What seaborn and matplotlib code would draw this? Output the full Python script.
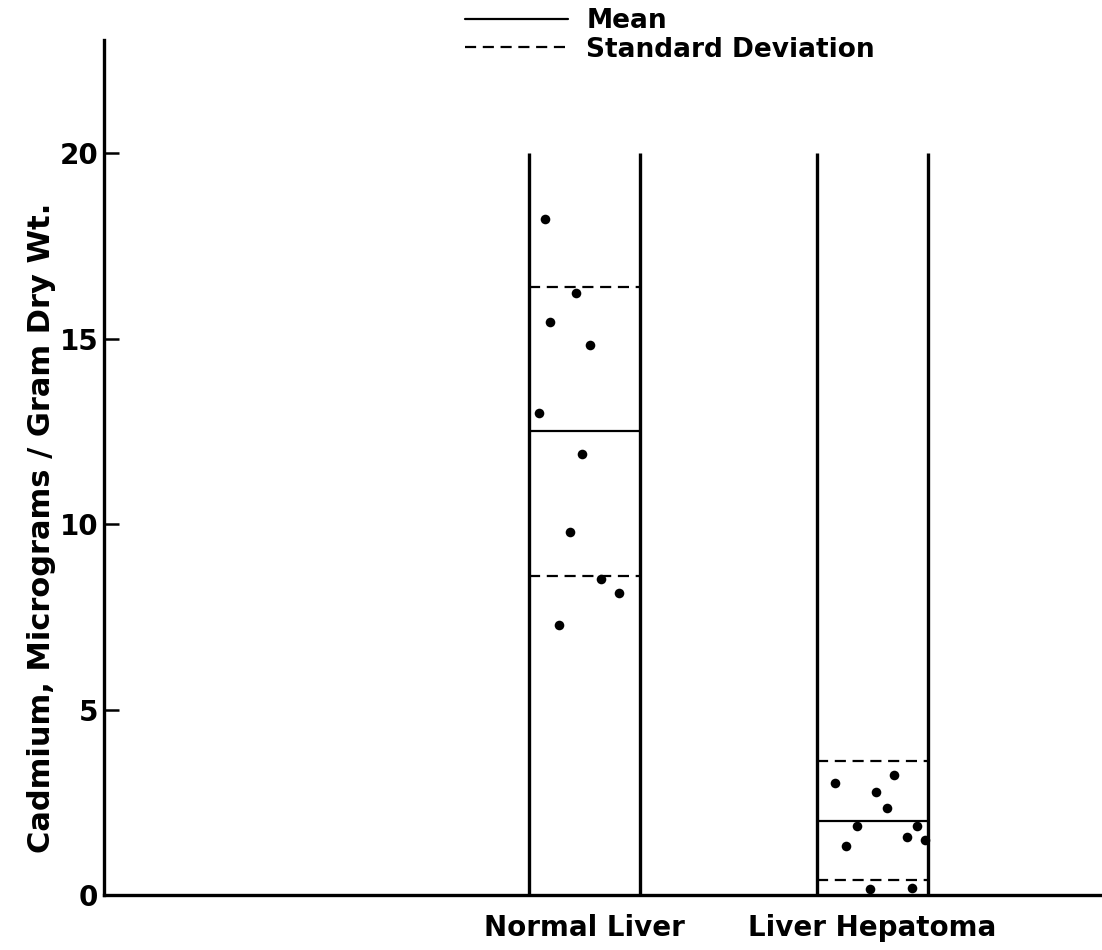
import pandas as pd
import numpy as np
import matplotlib.pyplot as plt
import seaborn as sns
from matplotlib.lines import Line2D

# data
groups = ["Normal Liver", "Liver Hepatoma"]
means = [12.5, 2.0]
sds = [3.9, 1.6]
column_top = 20

normal_values = [18.23, 16.23, 15.44, 14.83, 13.0, 11.89, 9.78, 8.52, 8.14, 7.28]
normal_jitter = [-0.72, -0.16, -0.63, 0.10, -0.82, -0.05, -0.26, 0.29, 0.61, -0.46]
hepatoma_values = [3.03, 3.23, 2.78, 2.35, 1.86, 1.87, 1.56, 1.48, 1.32, 0.15, 0.20]
hepatoma_jitter = [-0.67, 0.39, 0.06, 0.27, -0.27, 0.80, 0.62, 0.94, -0.48, -0.04, 0.72]

yticks = [0, 5, 10, 15, 20]

# %%
sns.set_style("ticks")
plt.rcParams['font.family'] = ['DejaVu Sans']
plt.rcParams['font.weight'] = 'bold'
plt.rcParams['text.color'] = 'black'
plt.rcParams['axes.labelcolor'] = 'black'
plt.rcParams['xtick.color'] = 'black'
plt.rcParams['ytick.color'] = 'black'
plt.rcParams['axes.edgecolor'] = 'black'

half_w = 0.193
pos = np.arange(len(groups))

df = pd.DataFrame({
    "group": ["Normal Liver"] * len(normal_values) + ["Liver Hepatoma"] * len(hepatoma_values),
    "value": normal_values + hepatoma_values,
    "jitter": normal_jitter + hepatoma_jitter,
})
df["x"] = df["group"].map(dict(zip(groups, pos))) + df["jitter"] * half_w

fig = plt.figure(figsize=(11.02, 9.5), dpi=100)
ax = fig.add_axes([0.0944, 0.0579, 0.9036, 0.9])

# column outlines
ax.vlines(np.concatenate([pos - half_w, pos + half_w]), 0, column_top,
          color="black", linewidth=2.4)

# mean and standard deviation bars
for p, m, s in zip(pos, means, sds):
    ax.hlines(m, p - half_w, p + half_w, color="black", linewidth=1.6)
    ax.hlines([m - s, m + s], p - half_w, p + half_w, color="black",
              linewidth=1.6, linestyles=(0, (5, 3)))

sns.scatterplot(data=df, x="x", y="value", ax=ax, color="black", s=48,
                edgecolor="black", linewidth=0, legend=False, zorder=3)

ax.set_xlim(-1.67, 1.79)
ax.set_ylim(0, 23.05)
ax.set_xticks(pos)
ax.set_xticklabels(groups, fontsize=20)
ax.set_yticks(yticks)
ax.set_yticklabels([str(t) for t in yticks], fontsize=20)
ax.tick_params(axis="y", direction="in", length=11, width=1.8, pad=4)
ax.tick_params(axis="x", length=0, pad=14)
ax.set_xlabel("")
ax.set_ylabel("Cadmium, Micrograms / Gram Dry Wt.", fontsize=22, fontweight="bold")
ax.yaxis.set_label_coords(-0.048, 0.43)

sns.despine(ax=ax)
ax.spines["left"].set_linewidth(2.4)
ax.spines["bottom"].set_linewidth(2.4)

handles = [Line2D([], [], color="black", linewidth=1.6),
           Line2D([], [], color="black", linewidth=1.6, linestyle=(0, (5, 3)))]
fig.legend(handles, ["Mean", "Standard Deviation"], loc="upper left",
           bbox_to_anchor=(465 / 1102, 1 - 8 / 950), frameon=False,
           fontsize=19, handlelength=3.9, handletextpad=0.7, labelspacing=0.1,
           borderpad=0, borderaxespad=0)

plt.savefig("out.png", dpi=100)
